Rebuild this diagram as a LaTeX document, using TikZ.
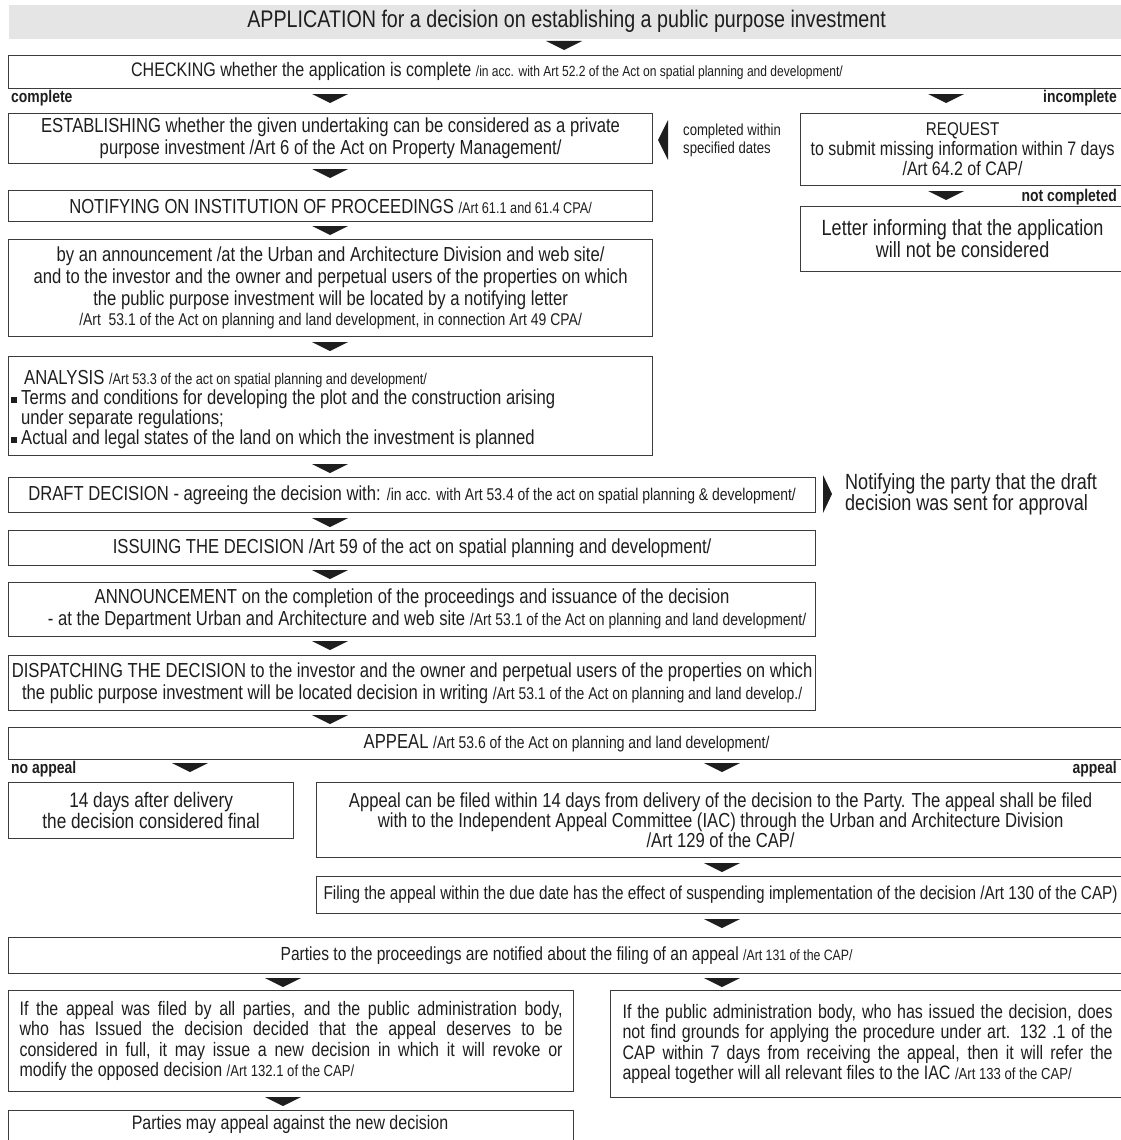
\documentclass[tikz,border=0pt]{standalone}
\usepackage{fontspec}
\setmainfont{Liberation Sans}[FakeStretch=0.82]
\usepackage{xcolor}
\usetikzlibrary{positioning}
\definecolor{Ink}{HTML}{1E1E1E}
\definecolor{Frame}{HTML}{3C3C3C}
\definecolor{TitleF}{HTML}{E5E5E5}
\newcommand{\refx}[1]{{\fontsize{15.5}{18}\selectfont #1}}
\newcommand{\fs}[1]{\fontsize{#1}{22}\selectfont}
\newcommand{\sqb}{\rule[1pt]{6pt}{6pt}}
\begin{document}
\begin{tikzpicture}[x=1pt,y=-1pt,
    font=\fontsize{20.3}{22}\selectfont,
    box/.style={draw=Frame,line width=1.2pt,anchor=north west,inner sep=0pt,
      align=center,text=Ink},
    lbl/.style={font=\fontsize{17}{19}\selectfont\bfseries,text=Ink,inner sep=0pt},
    note/.style={align=left,text=Ink,inner sep=0pt,anchor=west},
    dn/.pic={\fill[Ink] (-18,0) -- (18,0) -- (0,9) -- cycle;},
    lt/.pic={\fill[Ink] (0,0) -- (0,40) -- (-10,20) -- cycle;},
    rt/.pic={\fill[Ink] (0,0) -- (0,38) -- (9,19) -- cycle;}]
  \useasboundingbox (0,0) rectangle (1121,1140);
  % application and check
  \node[box,fill=TitleF,draw=none,minimum width=1116,minimum height=34,
    font=\fontsize{24}{26}\selectfont] (app) at (8,4)
    {APPLICATION for a decision on establishing a public purpose investment};
  \pic at (564,41) {dn};
  \node[box,minimum width=1116,minimum height=33] (chk) at (8,55) {};
  \node[text=Ink,inner sep=0pt,font=\fs{19.6}] (chktx) at (487,71)
    {CHECKING whether the application is complete {\fontsize{14.7}{16}\selectfont/in acc. with Art 52.2 of the Act on spatial planning and development/}};
  \node[lbl,anchor=west] (cpl) at (11,98) {complete};
  \pic at (330,94) {dn};
  \pic at (946,94) {dn};
  \node[lbl,anchor=east] (icpl) at (1117,98) {incomplete};
  % complete branch
  \node[box,minimum width=644,minimum height=50] (est) at (8,113)
    {ESTABLISHING whether the given undertaking can be considered as a private\\
     purpose investment /Art 6 of the Act on Property Management/};
  \pic at (668,120) {lt};
  \node[note,font=\fontsize{16}{18}\selectfont] (cwd) at (683,140)
    {completed within\\specified dates};
  % incomplete branch
  \node[box,minimum width=324,minimum height=72] (req) at (800,113)
    {{\fontsize{18.5}{20}\selectfont REQUEST}\\[-2pt]{\fontsize{19.5}{20}\selectfont to submit missing information within 7 days}\\[-2pt]
     {\fontsize{19.5}{20}\selectfont /Art 64.2 of CAP/}};
  \pic at (946,191) {dn};
  \node[lbl,anchor=east] (ncpl) at (1117,197) {not completed};
  \node[box,minimum width=324,minimum height=65,font=\fontsize{22}{22}\selectfont] (ltr) at (800,206)
    {Letter informing that the application\\will not be considered};
  % proceedings
  \pic at (330,169) {dn};
  \node[box,minimum width=644,minimum height=31] (ntf) at (8,190)
    {NOTIFYING ON INSTITUTION OF PROCEEDINGS \refx{/Art 61.1 and 61.4 CPA/}};
  \pic at (330,226) {dn};
  \node[box,minimum width=644,minimum height=97] (anm) at (8,239)
    {by an announcement /at the Urban and Architecture Division and web site/\\
     and to the investor and the owner and perpetual users of the properties on which\\
     the public purpose investment will be located by a notifying letter\\[-2pt]
     {\fontsize{17}{18}\selectfont/Art\ \ 53.1 of the Act on planning and land development, in connection Art 49 CPA/}};
  \pic at (330,342) {dn};
  \node[box,minimum width=644,minimum height=99] (ana) at (8,356) {};
  \node[note,anchor=north west,font=\fontsize{20.3}{20}\selectfont] (anatx) at (11,370)
    {\hspace*{13pt}ANALYSIS \refx{/Art 53.3 of the act on spatial planning and development/}\\
     \sqb\hspace{4pt}Terms and conditions for developing the plot and the construction arising\\
     \hspace*{10pt}under separate regulations;\\
     \sqb\hspace{4pt}Actual and legal states of the land on which the investment is planned};
  % decision
  \pic at (330,464) {dn};
  \node[box,minimum width=807,minimum height=35] (drf) at (8,477)
    {DRAFT DECISION - agreeing the decision with: {\fontsize{17}{18}\selectfont/in acc. with Art 53.4 of the act on spatial planning \& development/}};
  \pic at (823,475) {rt};
  \node[note,font=\fontsize{22}{21}\selectfont] (ntp) at (845,494)
    {Notifying the party that the draft\\decision was sent for approval};
  \pic at (330,518) {dn};
  \node[box,minimum width=807,minimum height=35] (iss) at (8,530)
    {ISSUING THE DECISION /Art 59 of the act on spatial planning and development/};
  \pic at (330,570) {dn};
  \node[box,minimum width=807,minimum height=54] (anc) at (8,582)
    {ANNOUNCEMENT on the completion of the proceedings and issuance of the decision\\
     \hspace*{30pt}- at the Department Urban and Architecture and web site {\fontsize{17}{18}\selectfont/Art 53.1 of the Act on planning and land development/}};
  \pic at (330,641) {dn};
  \node[box,minimum width=807,minimum height=55] (dsp) at (8,655)
    {DISPATCHING THE DECISION to the investor and the owner and perpetual users of the properties on which\\
     the public purpose investment will be located decision in writing {\fontsize{17}{18}\selectfont/Art 53.1 of the Act on planning and land develop./}};
  \pic at (330,715) {dn};
  % appeal
  \node[box,minimum width=1116,minimum height=32] (apl) at (8,727)
    {APPEAL {\fontsize{17}{18}\selectfont/Art 53.6 of the Act on planning and land development/}};
  \node[lbl,anchor=west] (nap) at (11,769) {no appeal};
  \pic at (190,763) {dn};
  \pic at (722,763) {dn};
  \node[lbl,anchor=east] (yap) at (1117,769) {appeal};
  \node[box,minimum width=285,minimum height=56,font=\fontsize{21}{21}\selectfont] (fnl) at (8,782)
    {14 days after delivery\\the decision considered final};
  \node[box,minimum width=808,minimum height=75,font=\fontsize{20.3}{20}\selectfont] (fld) at (316,782)
    {Appeal can be filed within 14 days from delivery of the decision to the Party. The appeal shall be filed\\
     with to the Independent Appeal Committee (IAC) through the Urban and Architecture Division\\
     /Art 129 of the CAP/};
  \pic at (722,863) {dn};
  \node[box,minimum width=808,minimum height=37,font=\fontsize{18.7}{20}\selectfont] (sus) at (316,876)
    {Filing the appeal within the due date has the effect of suspending implementation of the decision /Art 130 of the CAP)};
  \pic at (722,919) {dn};
  \node[box,minimum width=1116,minimum height=36,font=\fs{19}] (ptn) at (8,937)
    {Parties to the proceedings are notified about the filing of an appeal {\fontsize{15}{16}\selectfont/Art 131 of the CAP/}};
  \pic at (283,978) {dn};
  \pic at (722,978) {dn};
  \node[box,minimum width=565,minimum height=101,text width=543,align=justify,
    font=\fontsize{19.5}{20.5}\selectfont] (rvk) at (8,990)
    {If the appeal was filed by all parties, and the public administration body,\linebreak
     who has Issued the decision decided that the appeal deserves to be\linebreak
     considered in full, it may issue a new decision in which it will revoke or\linebreak
     modify the opposed decision {\fontsize{16}{18}\selectfont/Art 132.1 of the CAP/}};
  \node[box,minimum width=514,minimum height=107,text width=490,align=justify,
    font=\fontsize{19.5}{20.5}\selectfont] (ref) at (610,990)
    {If the public administration body, who has issued the decision, does\linebreak
     not find grounds for applying the procedure under art. 132 .1 of the\linebreak
     CAP within 7 days from receiving the appeal, then it will refer the\linebreak
     appeal together will all relevant files to the IAC {\fontsize{16}{18}\selectfont/Art 133 of the CAP/}};
  \pic at (283,1097) {dn};
  \node[box,minimum width=565,minimum height=40] (new) at (8,1110) {};
  \node[text=Ink,inner sep=0pt,font=\fontsize{19.5}{20}\selectfont] (newtx) at (290,1124)
    {Parties may appeal against the new decision};
\end{tikzpicture}
\end{document}
